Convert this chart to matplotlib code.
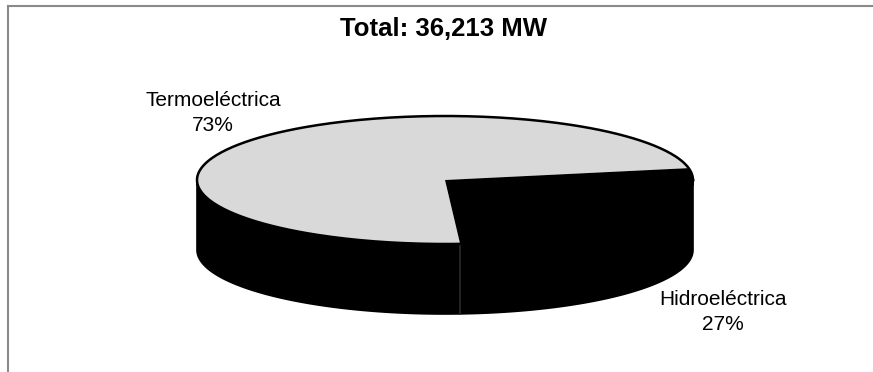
import numpy as np
import matplotlib.pyplot as plt
from matplotlib.patches import Polygon

plt.rcParams['font.family'] = ['Liberation Sans', 'DejaVu Sans']

# capacity split
total_mw = 36213
categories = ['Termoeléctrica', 'Hidroeléctrica']
shares = [73, 27]
face_colors = ['#d9d9d9', '#000000']

# pie geometry (pixel space, y down)
cx, cy = 445, 180
a, b = 248, 64
depth = 70
hidro_end = -86.5  # angle where the dark slice ends, degrees

fig = plt.figure(figsize=(8.73, 3.72), dpi=100)
ax = fig.add_axes([0, 0, 1, 1])
ax.set_xlim(0, 873)
ax.set_ylim(372, 0)
ax.axis('off')


def pt(t, dy=0.0):
    t = np.radians(t)
    return cx + a * np.cos(t), cy - b * np.sin(t) + dy


def arc(t1, t2, dy=0.0, n=200):
    ts = np.linspace(t1, t2, n)
    xs, ys = pt(ts, dy)
    return np.column_stack([xs, ys])


# slice angles from the shares, dark slice ends at hidro_end
spans = [s / sum(shares) * 360 for s in shares]
h1 = hidro_end
h2 = hidro_end + spans[1]
angles = {0: (h2, h2 + spans[0]), 1: (h1, h2)}

# side wall (front half)
top = arc(180, 360)
bot = arc(360, 180, dy=depth)
ax.add_patch(Polygon(np.vstack([top, bot]), closed=True, fc='black', ec='black', lw=1.2, zorder=1))
sx, sy = pt(h1)
ax.plot([sx, sx], [sy, sy + depth], color='#2a2a2a', lw=1.2, zorder=2)

# top faces
for i in range(len(shares)):
    t1, t2 = angles[i]
    pts = np.vstack([[cx, cy], arc(t1, t2)])
    ax.add_patch(Polygon(pts, closed=True, fc=face_colors[i], ec='none', zorder=3))

# rim outline
rim = arc(0, 360, n=400)
ax.plot(rim[:, 0], rim[:, 1], color='black', lw=1.8, zorder=4)

# labels
ax.text(444, 29, f'Total: {total_mw:,} MW', ha='center', va='center',
        fontsize=18.5, fontweight='bold')
label_pos = [(213, 113), (723, 312)]
for name, s, (x, y) in zip(categories, shares, label_pos):
    ax.text(x, y, f'{name}\n{s}%', ha='center', va='center', fontsize=15,
            linespacing=1.4)

# chart frame
ax.plot([8, 873], [6, 6], color='#8a8a8a', lw=1.5, zorder=0)
ax.plot([8, 8], [6, 372], color='#8a8a8a', lw=1.5, zorder=0)

fig.savefig('out.png', dpi=100, facecolor='white')
